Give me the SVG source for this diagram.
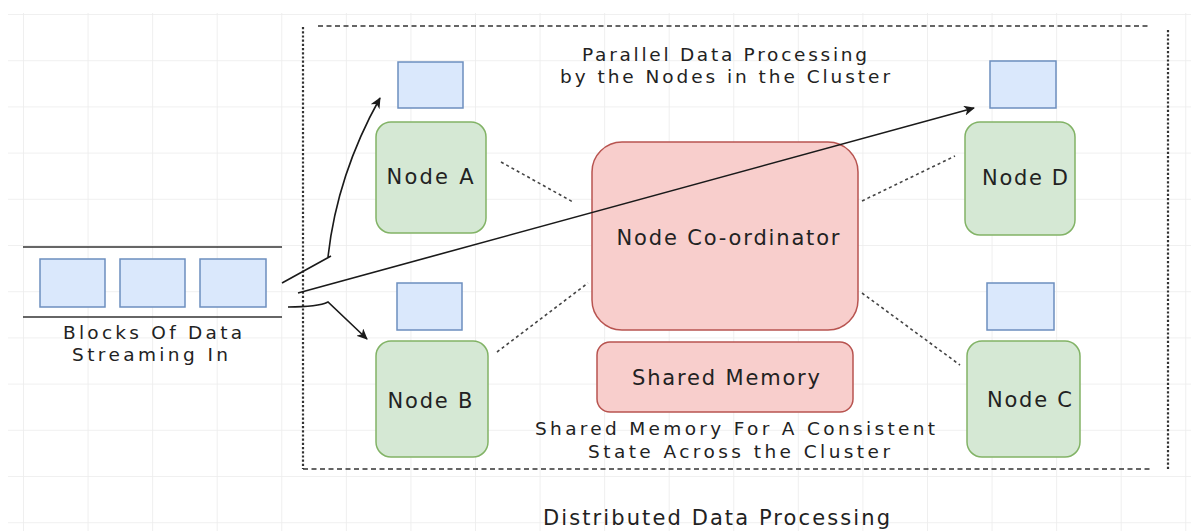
<svg xmlns="http://www.w3.org/2000/svg" width="1191" height="531" viewBox="0 0 1191 531">
<defs>
<pattern id="grid" x="23" y="14" width="64.57" height="46.2" patternUnits="userSpaceOnUse">
<path d="M0 0 H64.57 M0 0 V46.2" fill="none" stroke="#ececec" stroke-width="1.6"/>
</pattern>
<marker id="arr" markerWidth="12" markerHeight="10" refX="10" refY="5" orient="auto" markerUnits="userSpaceOnUse">
<path d="M0 0 L11 5 L0 10 L3 5 Z" fill="#1a1a1a"/>
</marker>
<style>
.t{font-family:"DejaVu Sans","Liberation Sans",sans-serif;font-size:21px;fill:#222;text-anchor:middle}
.s{font-size:18.5px}
.blk{fill:#dae8fc;stroke:#6c8ebf;stroke-width:1.5}
.grn{fill:#d5e8d4;stroke:#82b366;stroke-width:1.5}
.pnk{fill:#f8cecc;stroke:#b85450;stroke-width:1.5}
.dot{fill:none;stroke:#444;stroke-width:1.6;stroke-dasharray:3 3}
.arw{fill:none;stroke:#1a1a1a;stroke-width:1.6}
.bh{stroke:#333;stroke-width:1.5;stroke-dasharray:5 3.5}
.bv{stroke:#333;stroke-width:2.2;stroke-dasharray:2.2 2}
</style>
</defs>
<rect width="1191" height="531" fill="#ffffff"/>
<rect x="8" y="13" width="1183" height="518" fill="url(#grid)"/>

<g id="cluster-boundary">
<line class="bh" x1="318" y1="26" x2="1150" y2="26"/>
<line class="bh" x1="303" y1="469" x2="1150" y2="469"/>
<line class="bv" x1="303" y1="27" x2="303" y2="469"/>
<line class="bv" x1="1168" y1="30" x2="1168" y2="470"/>
</g>

<g id="stream">
<line x1="23" y1="247" x2="282" y2="247" stroke="#333" stroke-width="1.6"/>
<line x1="23" y1="317" x2="282" y2="317" stroke="#333" stroke-width="1.6"/>
<rect class="blk" x="40" y="259" width="65" height="48"/>
<rect class="blk" x="120" y="259" width="65" height="48"/>
<rect class="blk" x="200" y="259" width="66" height="48"/>
<text class="t s" x="152.5" y="339" textLength="179">Blocks Of Data</text>
<text class="t s" x="150" y="361" textLength="156">Streaming In</text>
</g>

<g id="title-top">
<text class="t s" x="724.5" y="61" textLength="285">Parallel Data Processing</text>
<text class="t s" x="725" y="83" textLength="330">by the Nodes in the Cluster</text>
</g>

<g id="block-a"><rect class="blk" x="398" y="62" width="65" height="46"/></g>
<g id="node-a">
<rect class="grn" x="376" y="122" width="110" height="111" rx="15"/>
<text class="t" x="430" y="184" textLength="87">Node A</text>
</g>

<g id="block-b"><rect class="blk" x="397" y="283" width="65" height="47"/></g>
<g id="node-b">
<rect class="grn" x="376" y="341" width="112" height="116" rx="15"/>
<text class="t" x="430" y="408" textLength="85">Node B</text>
</g>

<g id="block-d"><rect class="blk" x="990" y="61" width="66" height="47"/></g>
<g id="node-d">
<rect class="grn" x="965" y="122" width="110" height="113" rx="15"/>
<text class="t" x="1025" y="185" textLength="86">Node D</text>
</g>

<g id="block-c"><rect class="blk" x="987" y="283" width="67" height="47"/></g>
<g id="node-c">
<rect class="grn" x="967" y="341" width="113" height="116" rx="15"/>
<text class="t" x="1029.5" y="407" textLength="85">Node C</text>
</g>

<g id="coordinator">
<rect class="pnk" x="592" y="142" width="266" height="188" rx="30"/>
<text class="t" x="728" y="245" textLength="223">Node Co-ordinator</text>
</g>

<g id="shared-memory">
<rect class="pnk" x="597" y="342" width="256" height="70" rx="13"/>
<text class="t" x="726" y="385" textLength="188">Shared Memory</text>
</g>

<g id="connectors">
<path class="dot" d="M501 162 L573 202"/>
<path class="dot" d="M497 352 L588 283"/>
<path class="dot" d="M862 201 L955 156"/>
<path class="dot" d="M862 293 L960 365"/>
<path class="arw" d="M282 283 L331 256 M328 257 Q337 175 380 98" marker-end="url(#arr)"/>
<path class="arw" d="M298 293 L974 108" marker-end="url(#arr)"/>
<path class="arw" d="M288 307 Q318 307 328 302 L367 339" marker-end="url(#arr)"/>
</g>

<g id="labels">
<text class="t s" x="735" y="435" textLength="400">Shared Memory For A Consistent</text>
<text class="t s" x="739" y="458" textLength="302">State Across the Cluster</text>
<text class="t" x="716.5" y="525" textLength="347">Distributed Data Processing</text>
</g>
</svg>
